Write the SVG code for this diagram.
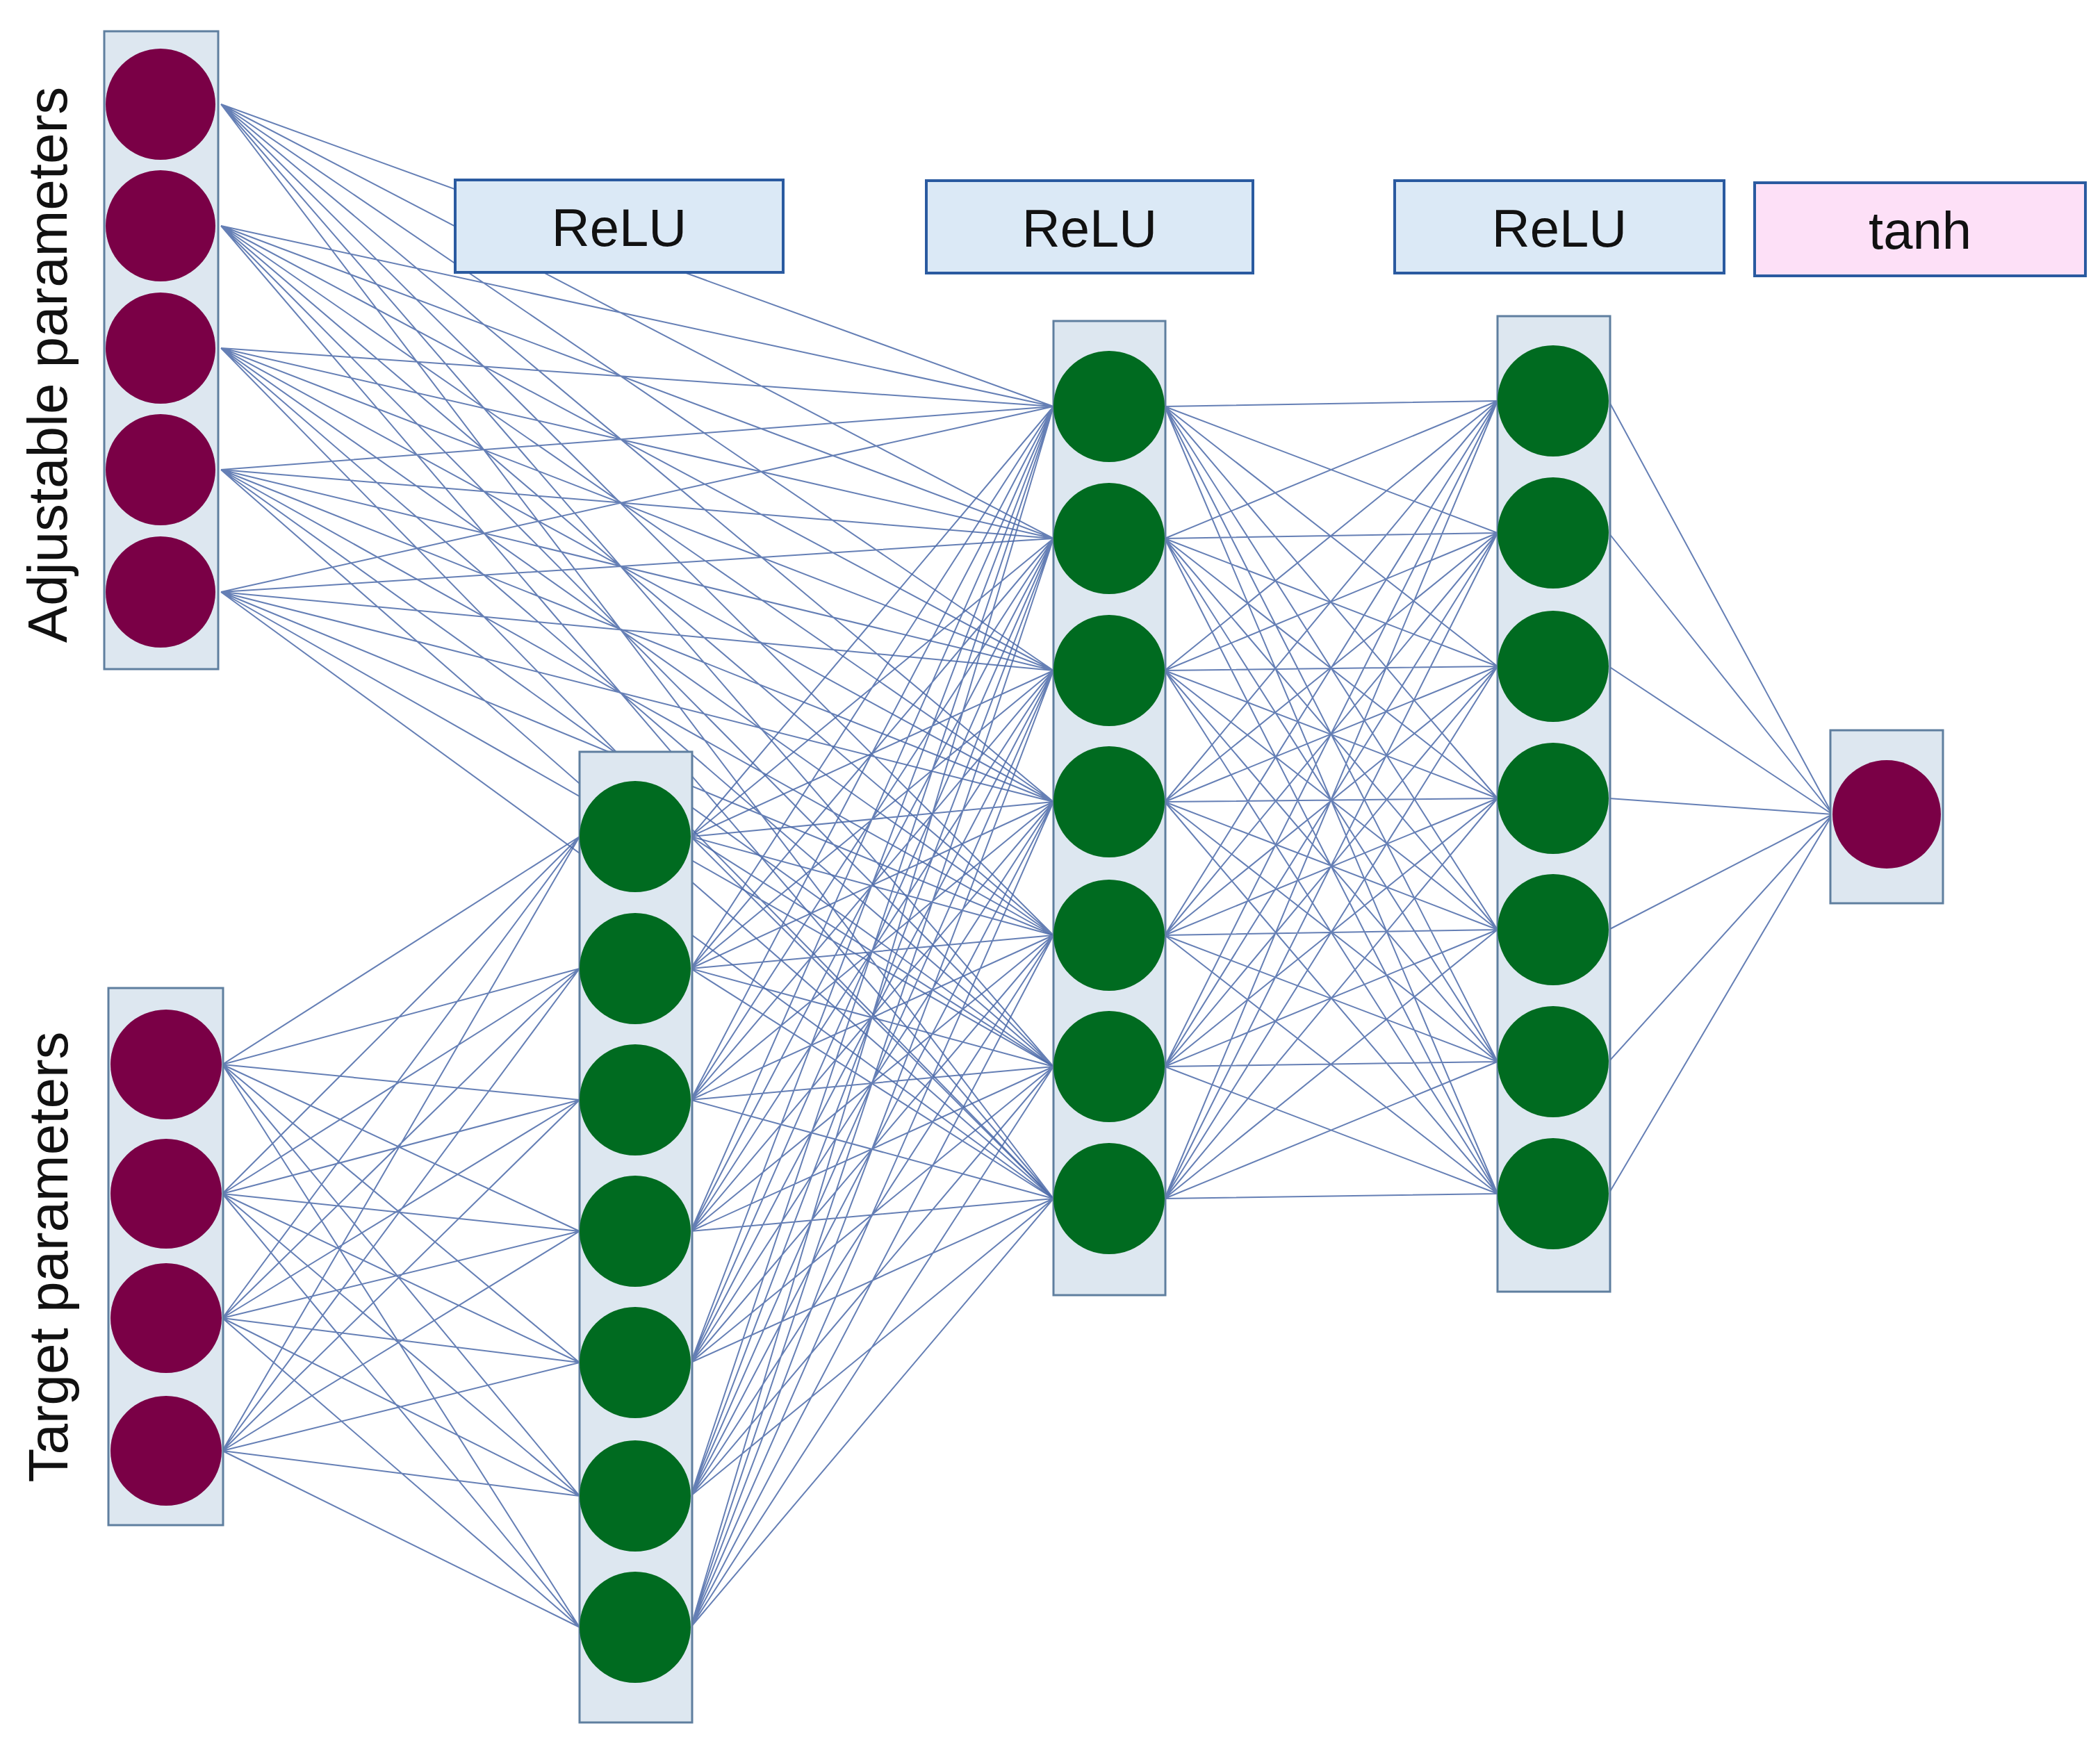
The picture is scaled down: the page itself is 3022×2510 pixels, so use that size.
<svg xmlns="http://www.w3.org/2000/svg" width="3022" height="2510" viewBox="0 0 3022 2510">
<style>
.col{fill:#dde7f0;stroke:#5f7f9f;stroke-width:3}
.m{fill:#7a0046}
.g{fill:#006b20}
.lb{fill:#dbe9f6;stroke:#2a5aa0;stroke-width:4}
.lt{fill:#fde0f7;stroke:#2a5aa0;stroke-width:4}
.t{font-family:"Liberation Sans",Arial,sans-serif;font-size:76px;fill:#111;text-anchor:middle}
.c{fill:none;stroke:#4a68a8;stroke-width:2;stroke-opacity:0.85}
</style>
<rect width="3022" height="2510" fill="#fff"/>
<g id="connectors" class="c">
<path d="M318 150L1516 585M318 150L1516 775M318 150L1516 965M318 150L1516 1154M318 150L1516 1346M318 150L1516 1535M318 150L1516 1725
M318 325L1516 585M318 325L1516 775M318 325L1516 965M318 325L1516 1154M318 325L1516 1346M318 325L1516 1535M318 325L1516 1725
M318 501L1516 585M318 501L1516 775M318 501L1516 965M318 501L1516 1154M318 501L1516 1346M318 501L1516 1535M318 501L1516 1725
M318 676L1516 585M318 676L1516 775M318 676L1516 965M318 676L1516 1154M318 676L1516 1346M318 676L1516 1535M318 676L1516 1725
M318 852L1516 585M318 852L1516 775M318 852L1516 965M318 852L1516 1154M318 852L1516 1346M318 852L1516 1535M318 852L1516 1725"/>
<path d="M320 1532L834 1204M320 1532L834 1394M320 1532L834 1583M320 1532L834 1772M320 1532L834 1961M320 1532L834 2153M320 1532L834 2342
M320 1718L834 1204M320 1718L834 1394M320 1718L834 1583M320 1718L834 1772M320 1718L834 1961M320 1718L834 2153M320 1718L834 2342
M320 1897L834 1204M320 1897L834 1394M320 1897L834 1583M320 1897L834 1772M320 1897L834 1961M320 1897L834 2153M320 1897L834 2342
M320 2088L834 1204M320 2088L834 1394M320 2088L834 1583M320 2088L834 1772M320 2088L834 1961M320 2088L834 2153M320 2088L834 2342"/>
<path d="M994 1204L1516 585M994 1204L1516 775M994 1204L1516 965M994 1204L1516 1154M994 1204L1516 1346M994 1204L1516 1535M994 1204L1516 1725
M994 1394L1516 585M994 1394L1516 775M994 1394L1516 965M994 1394L1516 1154M994 1394L1516 1346M994 1394L1516 1535M994 1394L1516 1725
M994 1583L1516 585M994 1583L1516 775M994 1583L1516 965M994 1583L1516 1154M994 1583L1516 1346M994 1583L1516 1535M994 1583L1516 1725
M994 1772L1516 585M994 1772L1516 775M994 1772L1516 965M994 1772L1516 1154M994 1772L1516 1346M994 1772L1516 1535M994 1772L1516 1725
M994 1961L1516 585M994 1961L1516 775M994 1961L1516 965M994 1961L1516 1154M994 1961L1516 1346M994 1961L1516 1535M994 1961L1516 1725
M994 2153L1516 585M994 2153L1516 775M994 2153L1516 965M994 2153L1516 1154M994 2153L1516 1346M994 2153L1516 1535M994 2153L1516 1725
M994 2342L1516 585M994 2342L1516 775M994 2342L1516 965M994 2342L1516 1154M994 2342L1516 1346M994 2342L1516 1535M994 2342L1516 1725"/>
<path d="M1676 585L2155 577M1676 585L2155 767M1676 585L2155 959M1676 585L2155 1149M1676 585L2155 1338M1676 585L2155 1528M1676 585L2155 1718
M1676 775L2155 577M1676 775L2155 767M1676 775L2155 959M1676 775L2155 1149M1676 775L2155 1338M1676 775L2155 1528M1676 775L2155 1718
M1676 965L2155 577M1676 965L2155 767M1676 965L2155 959M1676 965L2155 1149M1676 965L2155 1338M1676 965L2155 1528M1676 965L2155 1718
M1676 1154L2155 577M1676 1154L2155 767M1676 1154L2155 959M1676 1154L2155 1149M1676 1154L2155 1338M1676 1154L2155 1528M1676 1154L2155 1718
M1676 1346L2155 577M1676 1346L2155 767M1676 1346L2155 959M1676 1346L2155 1149M1676 1346L2155 1338M1676 1346L2155 1528M1676 1346L2155 1718
M1676 1535L2155 577M1676 1535L2155 767M1676 1535L2155 959M1676 1535L2155 1149M1676 1535L2155 1338M1676 1535L2155 1528M1676 1535L2155 1718
M1676 1725L2155 577M1676 1725L2155 767M1676 1725L2155 959M1676 1725L2155 1149M1676 1725L2155 1338M1676 1725L2155 1528M1676 1725L2155 1718"/>
<path d="M2315 577L2637 1172M2315 767L2637 1172M2315 959L2637 1172M2315 1149L2637 1172M2315 1338L2637 1172M2315 1528L2637 1172M2315 1718L2637 1172"/>
</g>
<g id="adjustable">
<rect class="col" x="150" y="45" width="164" height="918"/>
<ellipse class="m" cx="231" cy="150" rx="79" ry="80"/>
<ellipse class="m" cx="231" cy="325" rx="79" ry="80"/>
<ellipse class="m" cx="231" cy="501" rx="79" ry="80"/>
<ellipse class="m" cx="231" cy="676" rx="79" ry="80"/>
<ellipse class="m" cx="231" cy="852" rx="79" ry="80"/>
<text class="t" font-size="80" transform="translate(96 525) rotate(-90)" style="font-size:80px">Adjustable parameters</text>
</g>
<g id="target">
<rect class="col" x="156" y="1422" width="165" height="773"/>
<ellipse class="m" cx="239" cy="1532" rx="80" ry="79"/>
<ellipse class="m" cx="239" cy="1718" rx="80" ry="79"/>
<ellipse class="m" cx="239" cy="1897" rx="80" ry="79"/>
<ellipse class="m" cx="239" cy="2088" rx="80" ry="79"/>
<text class="t" transform="translate(97 1809) rotate(-90)" style="font-size:80px">Target parameters</text>
</g>
<g id="hidden1">
<rect class="col" x="834" y="1082" width="162" height="1397"/>
<circle class="g" cx="914" cy="1204" r="80"/>
<circle class="g" cx="914" cy="1394" r="80"/>
<circle class="g" cx="914" cy="1583" r="80"/>
<circle class="g" cx="914" cy="1772" r="80"/>
<circle class="g" cx="914" cy="1961" r="80"/>
<circle class="g" cx="914" cy="2153" r="80"/>
<circle class="g" cx="914" cy="2342" r="80"/>
</g>
<g id="hidden2">
<rect class="col" x="1516" y="462" width="161" height="1402"/>
<circle class="g" cx="1596" cy="585" r="80"/>
<circle class="g" cx="1596" cy="775" r="80"/>
<circle class="g" cx="1596" cy="965" r="80"/>
<circle class="g" cx="1596" cy="1154" r="80"/>
<circle class="g" cx="1596" cy="1346" r="80"/>
<circle class="g" cx="1596" cy="1535" r="80"/>
<circle class="g" cx="1596" cy="1725" r="80"/>
</g>
<g id="hidden3">
<rect class="col" x="2155" y="455" width="162" height="1404"/>
<circle class="g" cx="2235" cy="577" r="80"/>
<circle class="g" cx="2235" cy="767" r="80"/>
<circle class="g" cx="2235" cy="959" r="80"/>
<circle class="g" cx="2235" cy="1149" r="80"/>
<circle class="g" cx="2235" cy="1338" r="80"/>
<circle class="g" cx="2235" cy="1528" r="80"/>
<circle class="g" cx="2235" cy="1718" r="80"/>
</g>
<g id="output">
<rect class="col" x="2634" y="1051" width="162" height="249"/>
<circle class="m" cx="2715" cy="1172" r="78"/>
</g>
<g id="label-relu1"><rect class="lb" x="655" y="259" width="472" height="133"/><text class="t" x="891" y="354">ReLU</text></g>
<g id="label-relu2"><rect class="lb" x="1333" y="260" width="470" height="133"/><text class="t" x="1568" y="355">ReLU</text></g>
<g id="label-relu3"><rect class="lb" x="2007" y="260" width="474" height="133"/><text class="t" x="2244" y="355">ReLU</text></g>
<g id="label-tanh"><rect class="lt" x="2525" y="263" width="476" height="134"/><text class="t" x="2763" y="358">tanh</text></g>
</svg>
